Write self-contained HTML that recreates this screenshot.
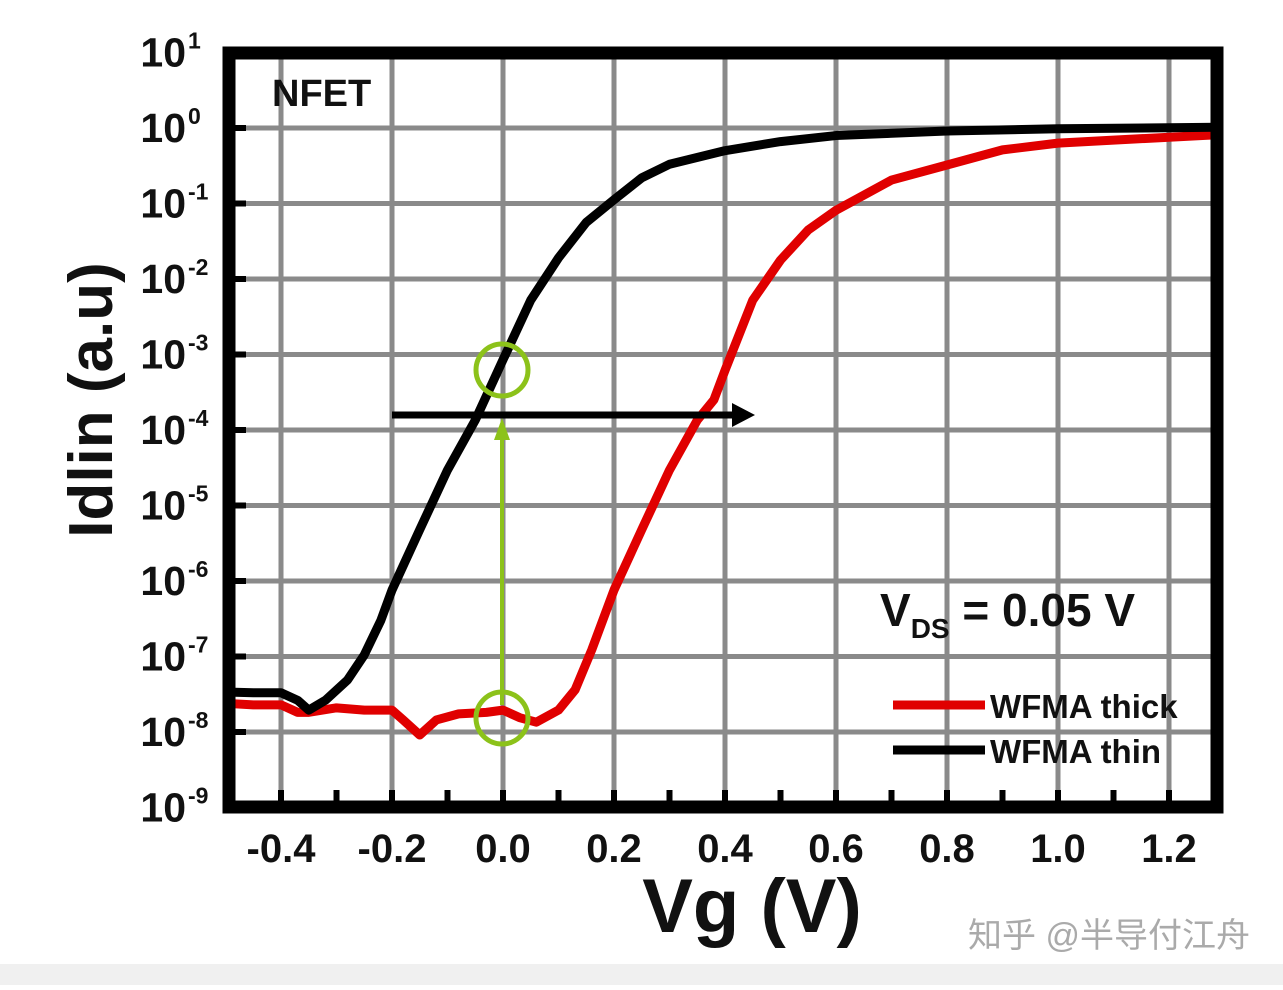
<!DOCTYPE html>
<html><head><meta charset="utf-8"><style>
body{margin:0;background:#fff;width:1283px;height:985px;overflow:hidden}
text{font-family:"Liberation Sans",sans-serif;font-weight:bold}
</style></head><body>
<svg width="1283" height="985">
<rect x="0" y="964" width="1283" height="21" fill="#f0f0f0"/>
<g id="grid"></g>
<g id="series"></g>
<g id="annot"></g>
<rect x="229" y="53" width="988" height="754" fill="none" stroke="#000" stroke-width="13"/>
<g id="ticks"></g>
<text x="272" y="106" font-size="38" fill="#111">NFET</text>
<text x="880" y="626" font-size="46" fill="#111">V<tspan font-size="28" dy="12">DS</tspan><tspan dy="-12"> = 0.05 V</tspan></text>
<line x1="893" y1="705" x2="985" y2="705" stroke="#e00000" stroke-width="9"/>
<text x="990" y="718" font-size="33" fill="#111">WFMA thick</text>
<line x1="893" y1="750" x2="985" y2="750" stroke="#000" stroke-width="9"/>
<text x="990" y="763" font-size="33" fill="#111">WFMA thin</text>
<text transform="translate(112,400) rotate(-90)" text-anchor="middle" font-size="62" fill="#111">Idlin (a.u)</text>
<text x="752" y="932" text-anchor="middle" font-size="76" fill="#111">Vg (V)</text>
<text x="1250" y="947" text-anchor="end" font-size="34" fill="#aaa" style="font-family:'Liberation Sans','Noto Sans CJK SC',sans-serif;font-weight:normal">知乎 @半导付江舟</text>
</svg>
<script>
const xTicks=[-0.4,-0.2,0.0,0.2,0.4,0.6,0.8,1.0,1.2];
const xTickLabels=["-0.4","-0.2","0.0","0.2","0.4","0.6","0.8","1.0","1.2"];
const yDecades=[1,0,-1,-2,-3,-4,-5,-6,-7,-8,-9];
const thinVg=[-0.5,-0.45,-0.4,-0.37,-0.35,-0.32,-0.28,-0.25,-0.22,-0.2,-0.15,-0.1,-0.05,0,0.05,0.1,0.15,0.2,0.25,0.3,0.4,0.5,0.6,0.8,1.0,1.3];
const thinLog=[-7.47,-7.48,-7.48,-7.58,-7.71,-7.58,-7.31,-6.98,-6.52,-6.12,-5.32,-4.53,-3.87,-3.07,-2.28,-1.72,-1.25,-0.95,-0.66,-0.48,-0.30,-0.18,-0.10,-0.04,-0.01,0.01];
const thickVg=[-0.5,-0.45,-0.4,-0.37,-0.35,-0.3,-0.25,-0.2,-0.18,-0.15,-0.12,-0.08,-0.03,0,0.03,0.06,0.1,0.13,0.16,0.2,0.25,0.3,0.35,0.38,0.4,0.45,0.5,0.55,0.6,0.65,0.7,0.8,0.9,1.0,1.1,1.3];
const thickLog=[-7.62,-7.64,-7.64,-7.74,-7.74,-7.68,-7.71,-7.71,-7.84,-8.04,-7.84,-7.76,-7.74,-7.71,-7.81,-7.87,-7.71,-7.44,-6.91,-6.12,-5.32,-4.53,-3.87,-3.60,-3.21,-2.28,-1.75,-1.35,-1.09,-0.89,-0.69,-0.49,-0.29,-0.20,-0.16,-0.09];
const NS="http://www.w3.org/2000/svg";
const X=v=>503+555*v, Y=d=>52.5+(1-d)*75.5;
function mk(tag,attrs,parent){const e=document.createElementNS(NS,tag);for(const k in attrs)e.setAttribute(k,attrs[k]);document.getElementById(parent).appendChild(e);return e;}
const clip=v=>Math.min(1217,v);
for(let v=-0.4;v<1.3;v+=0.2){const l=mk('line',{x1:X(v),x2:X(v),y1:53,y2:807,stroke:'#8a8a8a','stroke-width':5},'grid');

}
for(let v=-0.4;v<1.3;v+=0.1){const m=mk('line',{x1:X(v),x2:X(v),y1:790,y2:807,stroke:'#000','stroke-width':6},'ticks');

}
yDecades.forEach(d=>{const l=mk('line',{x1:229,x2:1217,y1:Y(d),y2:Y(d),stroke:'#8a8a8a','stroke-width':5},'grid');


const m=mk('line',{x1:229,x2:246,y1:Y(d),y2:Y(d),stroke:'#000','stroke-width':6},'ticks');


const t=mk('text',{x:186,y:Y(d)+14,'text-anchor':'end','font-size':41,fill:'#111'},'ticks');t.textContent='10';


const s=mk('text',{x:188,y:Y(d)-4,'font-size':23,fill:'#111'},'ticks');s.textContent=String(d);

});
xTicks.forEach((v,i)=>{const t=mk('text',{x:X(v),y:862,'text-anchor':'middle','font-size':40,fill:'#111'},'ticks');t.textContent=xTickLabels[i];

});
function path(vs,ls,color,name){const d=vs.map((v,i)=>(i?'L':'M')+clip(X(v))+','+Y(ls[i])).join(' ');
const p=mk('path',{d:d,fill:'none',stroke:color,'stroke-width':9,'stroke-linejoin':'round'},'series');

}
path(thickVg,thickLog,'#e00000','series-wfma-thick');
path(thinVg,thinLog,'#000','series-wfma-thin');
const a=mk('line',{x1:392,y1:415,x2:738,y2:415,stroke:'#000','stroke-width':7},'annot');


const ah=mk('polygon',{points:'732,403 755,415 732,427',fill:'#000'},'annot');


const g=mk('line',{x1:502,y1:705,x2:502,y2:438,stroke:'#8cc21a','stroke-width':4},'annot');


const gh=mk('polygon',{points:'494,440 502,418 510,440',fill:'#8cc21a'},'annot');


[370,718].forEach(cy=>{const c=mk('circle',{cx:502,cy:cy,r:26,fill:'none',stroke:'#8cc21a','stroke-width':5},'annot');

});
</script>
</body></html>
